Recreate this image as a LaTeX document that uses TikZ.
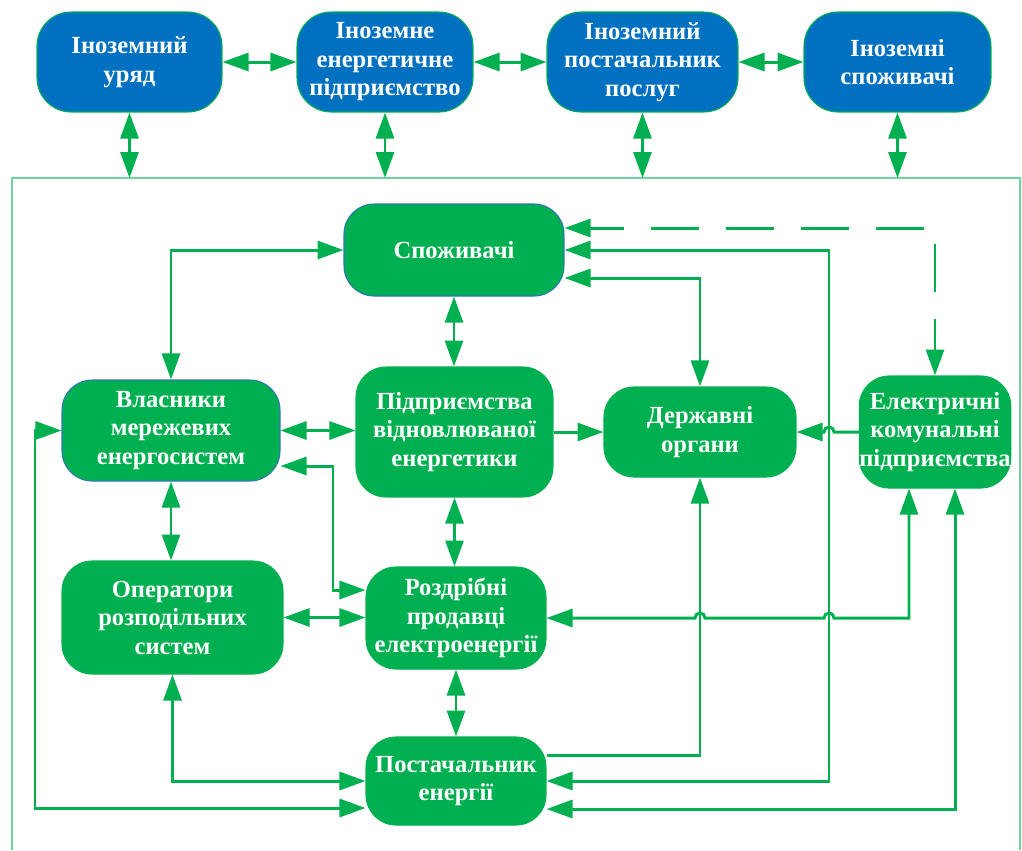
\documentclass[tikz,border=0pt]{standalone}
\usepackage{fontspec}
\setmainfont{Liberation Serif}
\usetikzlibrary{arrows.meta,calc}
\definecolor{boxblue}{HTML}{0070C0}
\definecolor{boxgreen}{HTML}{00B050}
\definecolor{edgeblue}{HTML}{2E75B6}
\definecolor{framegreen}{HTML}{6FD49A}
\begin{document}
\begin{tikzpicture}[x=0.02cm,y=-0.02cm,
  box/.style={rounded corners=0.6cm, align=center, text=white,
    font=\fontsize{14}{16.2}\selectfont\bfseries, inner sep=0pt, line width=0.6pt},
  bluebox/.style={box, rounded corners=0.68cm, fill=boxblue, draw=boxgreen},
  greenbox/.style={box, fill=boxgreen, draw=boxgreen},
  edgedbox/.style={box, fill=boxgreen, draw=edgeblue},
  link/.style={draw=boxgreen, line width=1.7pt,
    >={Triangle[length=0.52cm,width=0.36cm]}},
  both/.style={link,<->},
  one/.style={link,->},
  longdash/.style={dash pattern=on 0.96cm off 0.54cm, dash phase=0.28cm}
]
\useasboundingbox (0,0) rectangle (1022,850);

% outer frame of the domestic system
\draw[framegreen, line width=1.2pt] (12,850) -- (12,178) -- (1020,178) -- (1020,850);
\coordinate (ftop) at (0,178);

% foreign actors
\node[bluebox, minimum width=3.7cm,  minimum height=2cm] (fgov)  at (129.5,62) {Іноземний\\уряд};
\node[bluebox, minimum width=3.52cm, minimum height=2cm] (fent)  at (385,62)   {Іноземне\\енергетичне\\підприємство};
\node[bluebox, minimum width=3.82cm, minimum height=2cm] (fsup)  at (642.5,62) {Іноземний\\постачальник\\послуг};
\node[bluebox, minimum width=3.74cm, minimum height=2cm] (fcons) at (897.5,62) {Іноземні\\споживачі};

% domestic actors
\node[edgedbox, minimum width=4.4cm,  minimum height=1.84cm] (cons) at (454,250)   {Споживачі};
\node[edgedbox, minimum width=4.36cm, minimum height=2.02cm] (own)  at (171,430.5) {Власники\\мережевих\\енергосистем};
\node[greenbox, minimum width=3.94cm, minimum height=2.6cm]  (ren)  at (454.5,432) {Підприємства\\відновлюваної\\енергетики};
\node[greenbox, minimum width=3.84cm, minimum height=1.8cm]  (gov)  at (700,432)   {Державні\\органи};
\node[greenbox, minimum width=2.88cm, minimum height=2.24cm] (util) at (935,432)   {Електричні\\комунальні\\підприємства};
\node[greenbox, minimum width=4.42cm, minimum height=2.26cm] (dso)  at (172.5,617.5) {Оператори\\розподільних\\систем};
\node[greenbox, minimum width=3.6cm,  minimum height=2.04cm] (ret)  at (456,618)   {Роздрібні\\продавці\\електроенергії};
\node[greenbox, minimum width=3.6cm,  minimum height=1.76cm] (sup)  at (456,781)   {Постачальник\\енергії};

% routing points
\coordinate (yA) at (0,228);
\coordinate (yD) at (0,278);
\coordinate (jC) at (829,781);
\coordinate (yE) at (0,590);
\coordinate (jE) at (333,466);
\coordinate (jF) at (35,808);
\coordinate (yG) at (0,755);
\coordinate (jH) at (909,0);
\coordinate (jI) at (955,809);

% links between foreign actors
\draw[both] (fgov.east) -- (fent.west);
\draw[both] (fent.east) -- (fsup.west);
\draw[both] (fsup.east) -- (fcons.west);
\foreach \n in {fgov,fent,fsup,fcons}
  \draw[both] (\n.south) -- (\n.south |- ftop);

% links inside the system
\draw[both] (cons.west) -| (own.north);
\draw[both] (cons.south) -- (cons.south |- ren.north);
\draw[both, longdash] (cons.east |- yA) -| (util.north);
\draw[both] (cons.east) -| (jC) -- (sup.east |- jC);
\draw[both] (cons.east |- yD) -| (gov.north);
\draw[both] (own.east) -- (own.east -| ren.west);
\draw[one]  (ren.east) -- (ren.east -| gov.west);
\draw[one]  (util.west) -- ($(util.west -| jC)+(5,0)$)
  arc[start angle=0, end angle=180, radius=0.1cm] -- (util.west -| gov.east);
\draw[both] (ret.west |- yE) -| (jE) -- (own.east |- jE);
\draw[both] (own.south) -- (own.south |- dso.north);
\draw[both] (dso.east) -- (dso.east -| ret.west);
\draw[both] (ren.south) -- (ren.south |- ret.north);
\draw[both] (ret.south) -- (sup.north);
\draw[both] (dso.south) |- (sup.west);
\draw[both] (own.west) -| (jF) -- (sup.west |- jF);
\draw[one]  (sup.east |- yG) -| (gov.south);
\draw[both] (ret.east) -- ($(ret.east -| gov.south)+(-5,0)$)
  arc[start angle=180, end angle=0, radius=0.1cm]
  -- ($(ret.east -| jC)+(-5,0)$)
  arc[start angle=180, end angle=0, radius=0.1cm]
  -- (ret.east -| jH) -- (jH |- util.south);
\draw[both] (sup.east |- jI) -| (jI |- util.south);
\end{tikzpicture}
\end{document}
